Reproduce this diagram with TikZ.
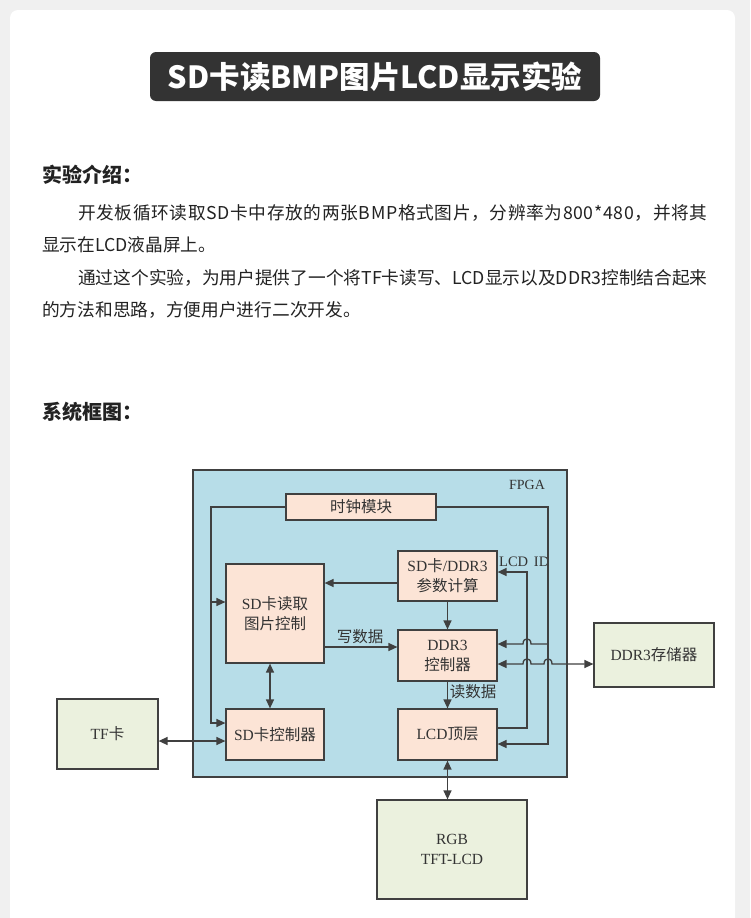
\documentclass[tikz,border=0pt]{standalone}
\usepackage{fontspec}
\setmainfont{Noto Sans CJK SC}
\newfontfamily\ser{Liberation Serif}
\usetikzlibrary{arrows.meta}
\definecolor{pagebg}{RGB}{240,240,240}
\definecolor{titlebg}{RGB}{51,51,51}
\definecolor{bodytxt}{RGB}{34,34,34}
\definecolor{fpgablue}{RGB}{183,221,232}
\definecolor{peach}{RGB}{252,228,214}
\definecolor{olive}{RGB}{235,241,222}
\definecolor{edge}{RGB}{64,64,64}
\definecolor{dtxt}{RGB}{51,51,51}
\tikzset{
  boxstyle/.style={draw=edge, line width=1.2pt, inner sep=0pt, align=center, text=dtxt,
     font=\fontsize{15.5}{20}\selectfont},
  pbox/.style={boxstyle, fill=peach},
  gbox/.style={boxstyle, fill=olive},
  wire/.style={draw=edge, line width=1.3pt},
  arr/.style={wire, -{Triangle[length=9pt,width=8pt]}},
  darr/.style={wire, {Triangle[length=9pt,width=8pt]}-{Triangle[length=9pt,width=8pt]}},
  lbl/.style={inner sep=0pt, text=dtxt, font=\fontsize{15.5}{20}\selectfont},
  bodyline/.style={anchor=west, inner sep=0pt, text=bodytxt, font=\fontsize{17.7}{18}\selectfont},
  heading/.style={anchor=west, inner sep=0pt, text=bodytxt, font=\bfseries\fontsize{20}{20}\selectfont}
}
\begin{document}
\begin{tikzpicture}[x=1pt,y=-1pt]
\useasboundingbox (0,0) rectangle (750,918);
\fill[pagebg] (0,0) rectangle (750,918);
\fill[white, rounded corners=8pt] (10,10) rectangle (735,940);

% title
\node[fill=titlebg, rounded corners=6pt, minimum width=450, minimum height=49, inner sep=0pt,
      text=white, font=\bfseries\fontsize{30.5}{30.5}\selectfont] (title) at (375,76.5) {SD卡读BMP图片LCD显示实验};

% intro text
\node[heading] (h1) at (42,175) {实验介绍：};
\node[bodyline] (t1) at (78,213) {\addfontfeature{LetterSpace=3.6}开发板循环读取SD卡中存放的两张BMP格式图片，分辨率为800*480，并将其};
\node[bodyline] (t2) at (42,245) {显示在LCD液晶屏上。};
\node[bodyline] (t3) at (78,278) {通过这个实验，为用户提供了一个将TF卡读写、LCD显示以及DDR3控制结合起来};
\node[bodyline] (t4) at (42,310) {的方法和思路，方便用户进行二次开发。};
\node[heading] (h2) at (42,412) {系统框图：};

% FPGA block
\node[draw=edge, line width=1.2pt, fill=fpgablue, minimum width=374, minimum height=307, inner sep=0pt] (fpga) at (380,623.5) {};
\node[lbl, font=\fontsize{14}{16}\selectfont] (fpgal) at (527,485) {\ser FPGA};

\node[pbox, minimum width=150, minimum height=26] (clk) at (361,507) {时钟模块};
\node[pbox, minimum width=99, minimum height=50] (param) at (447.5,576) {{\ser SD}卡{\ser /DDR3}\\参数计算};
\node[pbox, minimum width=98, minimum height=99] (sdread) at (275,613.5) {{\ser SD}卡读取\\图片控制};
\node[pbox, minimum width=99, minimum height=51] (ddr) at (447.5,655.5) {{\ser DDR3}\\控制器};
\node[pbox, minimum width=98, minimum height=51] (sdctl) at (275,734.5) {{\ser SD}卡控制器};
\node[pbox, minimum width=99, minimum height=51] (lcd) at (447.5,734.5) {{\ser LCD}顶层};

\node[gbox, minimum width=101, minimum height=70] (tf) at (107.5,734) {{\ser TF}卡};
\node[gbox, minimum width=120, minimum height=64] (ddrmem) at (654,655) {{\ser DDR3}存储器};
\node[gbox, minimum width=150, minimum height=99] (rgb) at (452,849.5) {{\ser RGB}\\{\ser TFT-LCD}};

% labels
\node[lbl] (wlbl) at (360,637) {写数据};
\node[lbl] (rlbl) at (473,692) {读数据};
\node[lbl, anchor=west, font=\fontsize{14.5}{16}\selectfont] (idlbl) at (499,562) {\ser LCD\hspace{0.4em}ID};

% clock distribution
\coordinate (lt) at (211,507);
\coordinate (lm) at (211,602);
\coordinate (lb) at (211,723);
\coordinate (rt) at (548,507);
\coordinate (rm) at (548,644);
\coordinate (rb) at (548,744);
\draw[arr] (clk.west) -- (lt) -- (lb) -- (lb -| sdctl.west);
\draw[arr] (lm) -- (lm -| sdread.west);
\draw[arr] (clk.east) -- (rt) -- (rb) -- (rb -| lcd.east);
\draw[arr] (rm) -- (531,644) .. controls (531,637) and (523,637) .. (523,644) -- (rm -| ddr.east);

% LCD ID
\coordinate (idb) at (527,728);
\coordinate (idt) at (527,572);
\draw[arr] (idb -| lcd.east) -- (idb) -- (idt) -- (idt -| param.east);

% DDR3 memory link
\coordinate (mm) at (594,664);
\draw[darr] (mm -| ddr.east) -- (523,664) .. controls (523,657) and (531,657) .. (531,664)
   -- (544,664) .. controls (544,657) and (552,657) .. (552,664) -- (mm -| ddrmem.west);

% internal data paths
\draw[arr] ([yshift=-7pt]param.west) -- ([yshift=-7pt]param.west -| sdread.east);
\draw[arr] (param.south) -- (ddr.north);
\draw[arr] ([yshift=-33.5pt]sdread.east) -- ([yshift=-33.5pt]sdread.east -| ddr.west);
\draw[arr] (ddr.south) -- (lcd.north);
\draw[darr] ([xshift=-5pt]sdread.south) -- ([xshift=-5pt]sdctl.north);
\draw[darr] ([yshift=-7pt]tf.east) -- ([yshift=-7pt]tf.east -| sdctl.west);
\draw[darr] (lcd.south) -- (lcd.south |- rgb.north);
\end{tikzpicture}
\end{document}
